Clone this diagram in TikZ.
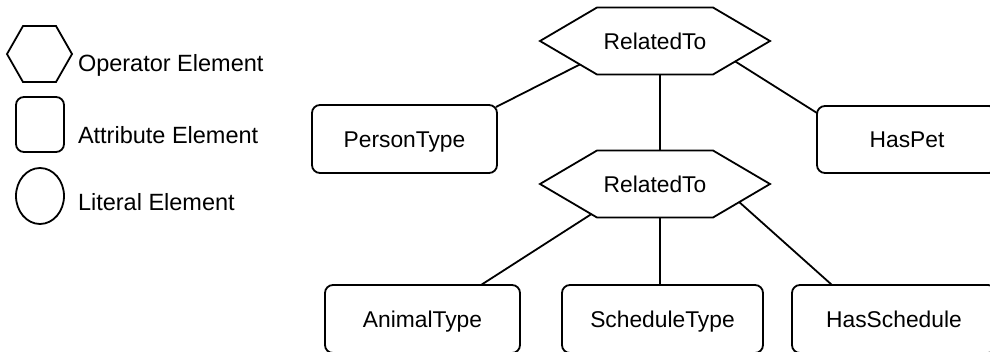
\documentclass[tikz,border=0pt]{standalone}
\usepackage{fontspec}
\setmainfont{Liberation Sans}
\usetikzlibrary{calc,shapes.geometric}
\newcommand\drawhex[2]{\draw (#1.west) -- ([xshift=#2]#1.north west) -- ([xshift=-#2]#1.north east) -- (#1.east) -- ([xshift=-#2]#1.south east) -- ([xshift=#2]#1.south west) -- cycle;}
\begin{document}
\begin{tikzpicture}[x=1pt,y=-1pt,line width=1.8pt,
  every node/.style={inner sep=0pt, outer sep=0pt, font=\fontsize{22.8}{27}\selectfont, text height=16.3pt, text depth=0pt},
  attr/.style={draw, rounded corners=8pt, minimum height=68pt},
  hexbox/.style={minimum width=230pt, minimum height=67pt},
  legtext/.style={anchor=west, font=\fontsize{23.5}{28}\selectfont}]
\useasboundingbox (0,0) rectangle (990,351);
\clip (0,0) rectangle (990,351);
% legend
\node[minimum width=65pt, minimum height=56pt] (lhex) at (39.5,54) {};
\drawhex{lhex}{16pt}
\node[draw, rounded corners=8pt, minimum width=48pt, minimum height=55pt] (lattr) at (40,124.5) {};
\node[draw, ellipse, minimum width=48pt, minimum height=56pt] (llit) at (40,196) {};
\node[legtext] (t1) at (78,63) {Operator Element};
\node[legtext] (t2) at (78,135) {Attribute Element};
\node[legtext] (t3) at (78,202) {Literal Element};
% hexagons
\node[hexbox] (r1) at (655,41) {RelatedTo};
\drawhex{r1}{57pt}
\node[hexbox] (r2) at (655,184) {RelatedTo};
\drawhex{r2}{57pt}
% attribute boxes
\node[attr, minimum width=185pt] (pt) at (404.5,139) {PersonType};
\node[attr, minimum width=180pt, minimum height=67pt] (hp) at (907,139.5) {HasPet};
\node[attr, minimum width=195pt] (at) at (422.5,319) {AnimalType};
\node[attr, minimum width=201pt] (st) at (662.5,319) {ScheduleType};
\node[attr, minimum width=204pt] (hs) at (894,319) {HasSchedule};
% connectors
\draw ($(r1.west)!0.7!([xshift=57pt]r1.south west)$) -- ($(pt.north east)+(-1,2)$);
\draw ($(r1.east)!0.61!([xshift=-57pt]r1.south east)$) -- ($(hp.north west)+(0,7)$);
\coordinate (v1) at ($(r1.south)+(5,0)$);
\draw (v1) -- (v1 |- r2.north);
\coordinate (v2) at ($(r2.south)+(5,0)$);
\draw (v2) -- (v2 |- st.north);
\draw ($(r2.west)!0.9!([xshift=57pt]r2.south west)$) -- ($(at.north west)!0.8!(at.north east)$);
\draw ($(r2.east)!0.54!([xshift=-57pt]r2.south east)$) -- ($(hs.north west)+(40,0)$);
\end{tikzpicture}
\end{document}
